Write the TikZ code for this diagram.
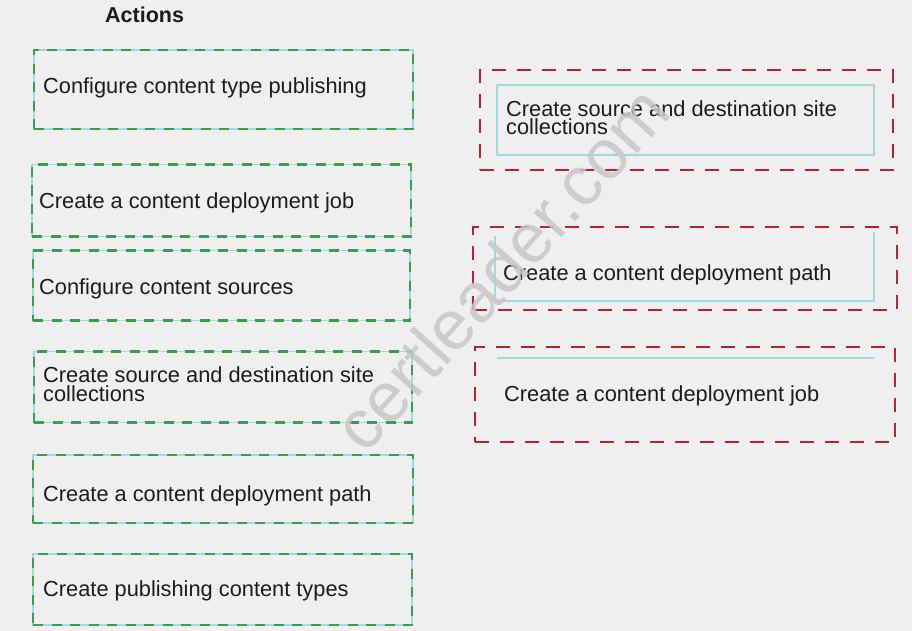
\documentclass[tikz,border=0pt]{standalone}
\usepackage{fontspec}
\setmainfont{Liberation Sans}
\definecolor{bgc}{RGB}{239,239,239}
\definecolor{gdash}{RGB}{58,158,80}
\definecolor{rdash}{RGB}{192,32,40}
\definecolor{cyanl}{RGB}{160,218,222}
\definecolor{txtc}{RGB}{28,28,28}
\definecolor{wmark}{RGB}{200,200,200}
\tikzset{
  gbox/.style={draw=gdash, line width=2.4pt, dash pattern=on 10pt off 8.5pt,
    inner sep=0pt, preaction={draw=cyanl, line width=1.2pt, solid}},
  rbox/.style={draw=rdash, line width=2.8pt, dash pattern=on 14pt off 11pt, inner sep=0pt},
  cyanline/.style={draw=cyanl, line width=1.2pt},
  lbl/.style={inner sep=0pt, text=txtc, font=\fontsize{21.8}{18.8}\selectfont, align=left, anchor=base west},
  ttl/.style={inner sep=0pt, text=txtc, font=\fontsize{21.5}{24}\selectfont\bfseries, anchor=base west},
  wm/.style={inner sep=0pt, text=wmark, opacity=0.85, font=\fontsize{70}{70}\selectfont, rotate=48}
}
\begin{document}
\begin{tikzpicture}[x=1pt, y=-1pt]
\useasboundingbox (0,0) rectangle (912,631);
\fill[bgc] (0,0) rectangle (912,631);

\node[ttl] (title) at (105,23) {Actions};

% left column boxes
\node[gbox, minimum width=379, minimum height=79] (b1) at (223.5,89.5) {};
\node[gbox, minimum width=379, minimum height=72] (b2) at (221.5,200.5) {};
\node[gbox, minimum width=377, minimum height=70] (b3) at (221.5,285.5) {};
\node[gbox, minimum width=378, minimum height=71] (b4) at (223,387) {};
\node[gbox, minimum width=380, minimum height=68] (b5) at (223,489) {};
\node[gbox, minimum width=379, minimum height=71] (b6) at (222.5,589.5) {};

\node[lbl] (t1) at (43,93.3) {Configure content type publishing};
\node[lbl] (t2) at (39,208.3) {Create a content deployment job};
\node[lbl] (t3) at (39,294.3) {Configure content sources};
\node[lbl] (t4) at (43,401.7) {Create source and destination site\\collections};
\node[lbl] (t5) at (43,501.7) {Create a content deployment path};
\node[lbl] (t6) at (43,596.7) {Create publishing content types};

% right column
\draw[cyanline] (497,85) rectangle (874,155);
\draw[cyanline] (495,301) -- (495,236);
\draw[cyanline] (495,301) -- (874,301) -- (874,232);
\draw[cyanline] (497,358) -- (874,358);

\node[rbox, minimum width=413, minimum height=100] (r1) at (686.5,120) {};
\node[rbox, minimum width=424, minimum height=83] (r2) at (685,268.5) {};
\node[rbox, minimum width=420, minimum height=95] (r3) at (685,394.5) {};

\node[lbl] (s1) at (506,135) {Create source and destination site\\collections};
\node[lbl] (s2) at (503,280.7) {Create a content deployment path};
\node[lbl] (s3) at (504,401.7) {Create a content deployment job};

% watermark
\node[wm] (wmk) at (501,268) {certleader.com};
\end{tikzpicture}
\end{document}
